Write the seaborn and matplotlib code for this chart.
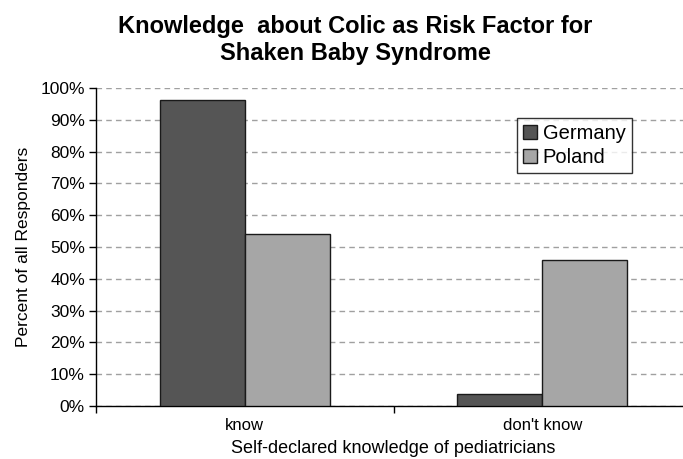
import matplotlib
matplotlib.use("Agg")
import matplotlib.pyplot as plt
import seaborn as sns
import pandas as pd
from matplotlib.ticker import PercentFormatter, FixedLocator, NullFormatter

categories = ["know", "don't know"]
countries = ["Germany", "Poland"]
germany = [96.2, 3.8]
poland = [54.2, 45.8]
colors = ["#555555", "#a6a6a6"]

df = pd.DataFrame({
    "Knowledge": categories * 2,
    "Country": ["Germany"] * 2 + ["Poland"] * 2,
    "Percent": germany + poland,
})

sns.set_theme(style="white")
plt.rcParams["font.family"] = ["Liberation Sans", "DejaVu Sans"]
plt.rcParams["text.color"] = "black"

fig = plt.figure(figsize=(6.83, 4.59), dpi=100)
ax = fig.add_axes([0.1406, 0.1155, 0.8711, 0.6928])

sns.barplot(data=df, x="Knowledge", y="Percent", hue="Country",
            palette=colors, width=0.572, edgecolor="#1a1a1a", linewidth=1.0,
            saturation=1, ax=ax, legend=True, zorder=3)

ax.set_xlim(-0.5, 1.5)
ax.set_ylim(0, 100)
ax.yaxis.set_major_locator(FixedLocator(range(0, 101, 10)))
ax.yaxis.set_major_formatter(PercentFormatter(decimals=0))
ax.grid(axis="y", color="#a0a0a0", linestyle=(0, (4, 3)), linewidth=1.0, zorder=0)
ax.grid(axis="x", visible=False)

ax.set_xticks([-0.5, 0.5, 1.5])
ax.xaxis.set_major_formatter(NullFormatter())
ax.set_xticks([0, 1], minor=True)
ax.set_xticklabels(categories, minor=True)
ax.tick_params(axis="x", which="major", length=5, width=1, color="black", direction="out", bottom=True)
ax.tick_params(axis="x", which="minor", length=0, labelsize=12, pad=9, labelcolor="black")
ax.tick_params(axis="y", length=5, width=1, color="black", direction="out", left=True,
               labelsize=12.5, labelcolor="black", pad=3)

for side in ["top", "right"]:
    ax.spines[side].set_visible(False)
for side in ["left", "bottom"]:
    ax.spines[side].set_color("black")
    ax.spines[side].set_linewidth(1.0)

ax.set_xlabel("Self-declared knowledge of pediatricians", fontsize=13, color="black", labelpad=5)
ax.set_ylabel("Percent of all Responders", fontsize=12.5, color="black", labelpad=7)

leg = ax.legend(loc="upper left", bbox_to_anchor=(0.707, 0.907), frameon=True, fancybox=False,
                fontsize=14.5, handlelength=0.7, handleheight=0.7, handletextpad=0.3,
                borderpad=0.3, labelspacing=0.25, edgecolor="black", borderaxespad=0)
leg.get_frame().set_linewidth(1.0)
leg.set_zorder(5)
for h in leg.legend_handles:
    h.set_edgecolor("#1a1a1a")
for t in leg.get_texts():
    t.set_color("black")

fig.text(0.52, 0.913, "Knowledge  about Colic as Risk Factor for\nShaken Baby Syndrome",
         ha="center", va="center", fontsize=17, fontweight="bold", linespacing=1.25,
         color="black")

fig.savefig("out.png", dpi=100)
